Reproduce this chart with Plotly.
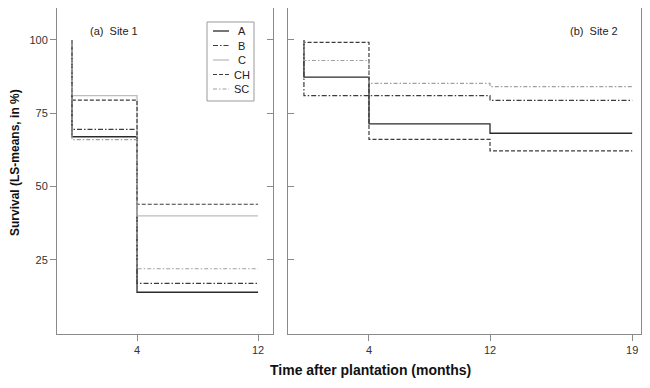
import numpy as np
import plotly.graph_objects as go

# ---- data ----
series_names = ["A", "B", "C", "CH", "SC"]
months_site1 = [0, 4, 12]
months_site2 = [0, 4, 12, 19]

site1_A = [100, 67, 14]
site1_B = [100, 69.5, 17]
site1_C = [100, 81, 40]
site1_CH = [100, 79.5, 44]
site1_SC = [100, 66, 22]

site2_A = [100, 87.3, 71.4, 68.2]
site2_B = [100, 81, 81, 79.4]
site2_CH = [100, 99.2, 66.1, 62.2]
site2_SC = [100, 93, 85.2, 84.1]

site1_ticks = [4, 12]
site2_ticks = [4, 12, 19]
y_ticks = [25, 50, 75, 100]

# ---- styling ----
styles = {
    "A": dict(color="#2b2b2b", dash="solid", width=1.3),
    "B": dict(color="#3c3c3c", dash="5px,2px,1.5px,2px", width=1.2),
    "C": dict(color="#bdbdbd", dash="solid", width=1.3),
    "CH": dict(color="#3c3c3c", dash="4px,2px", width=1.2),
    "SC": dict(color="#a0a0a0", dash="4px,2px,1.5px,2px", width=1.2),
}


def axis_pos(m):
    # non-uniform time axis scale of the original figure
    return np.interp(m, [0, 4, 12, 19], [-0.3, 4, 12, 21.4])


site1 = {"A": site1_A, "B": site1_B, "C": site1_C, "CH": site1_CH, "SC": site1_SC}
site2 = {"A": site2_A, "B": site2_B, "CH": site2_CH, "SC": site2_SC}

fig = go.Figure()
for name in series_names:
    fig.add_trace(go.Scatter(
        x=axis_pos(months_site1), y=site1[name], mode="lines", line_shape="vh",
        line=styles[name], name=name, xaxis="x", yaxis="y",
        showlegend=False, hoverinfo="skip"))
for name in series_names:
    if name not in site2:
        continue
    fig.add_trace(go.Scatter(
        x=axis_pos(months_site2), y=site2[name], mode="lines", line_shape="vh",
        line=styles[name], name=name, xaxis="x2", yaxis="y2",
        showlegend=False, hoverinfo="skip"))

FONT = "Liberation Sans, Arial, sans-serif"
axcol = "#8a8a8a"
tickfont = dict(family=FONT, size=11, color="#333333")
yr = [-0.24, 110.9]

common_x = dict(showline=True, linecolor=axcol, linewidth=1, mirror=True,
                ticks="outside", ticklen=6, tickcolor=axcol, showgrid=False,
                zeroline=False, tickfont=tickfont)
common_y = dict(showline=True, linecolor=axcol, linewidth=1, mirror=True,
                showgrid=False, zeroline=False, range=yr, tickvals=y_ticks,
                tickcolor=axcol, ticklen=6, tickfont=tickfont)

# page body has an 8px margin: figure placed at (8,8)
fig.update_layout(
    width=642, height=380,
    margin=dict(l=49, r=9, t=0, b=54),
    paper_bgcolor="white", plot_bgcolor="white",
    font=dict(family=FONT, size=11, color="#222222"),
    xaxis=dict(domain=[0, 0.3699], range=[-1.29, 12.99],
               tickvals=list(axis_pos(site1_ticks)), ticktext=[str(t) for t in site1_ticks],
               **common_x),
    xaxis2=dict(domain=[0.3955, 1], range=[-1.355, 21.98],
                tickvals=list(axis_pos(site2_ticks)), ticktext=[str(t) for t in site2_ticks],
                **common_x),
    yaxis=dict(anchor="x", ticks="outside", showticklabels=True, **common_y),
    yaxis3=dict(anchor="x", overlaying="y", side="right", ticks="inside",
                showticklabels=False, showline=False, showgrid=False, zeroline=False,
                range=yr, tickvals=y_ticks, tickcolor=axcol, ticklen=6),
    yaxis2=dict(anchor="x2", ticks="inside", showticklabels=False, **common_y),
    yaxis4=dict(anchor="x2", overlaying="y2", side="right", ticks="outside",
                showticklabels=False, showline=False, showgrid=False, zeroline=False,
                range=yr, tickvals=y_ticks, tickcolor=axcol, ticklen=6),
    showlegend=False,
)

# dummy traces so overlay axes render
fig.add_trace(go.Scatter(x=[None], y=[None], xaxis="x", yaxis="y3", showlegend=False))
fig.add_trace(go.Scatter(x=[None], y=[None], xaxis="x2", yaxis="y4", showlegend=False))


def px_x(px):
    return (px - 57) / 584


def px_y(py):
    return 1 - (py - 8) / 326


# legend (compact, like the original)
fig.add_shape(type="rect", xref="paper", yref="paper",
              x0=px_x(207), x1=px_x(254), y0=px_y(101), y1=px_y(22),
              line=dict(color="#9a9a9a", width=1), fillcolor="white", layer="above")
legend_rows = [31, 45.5, 60, 74.5, 89]
for name, row in zip(series_names, legend_rows):
    st = styles[name]
    fig.add_shape(type="line", xref="paper", yref="paper",
                  x0=px_x(213), x1=px_x(229), y0=px_y(row), y1=px_y(row),
                  line=dict(color=st["color"], dash=st["dash"], width=st["width"]),
                  layer="above")
    fig.add_annotation(text=name, xref="paper", yref="paper", x=px_x(241.5), y=px_y(row),
                       xanchor="center", yanchor="middle", showarrow=False,
                       font=dict(family=FONT, size=11, color="#222222"))

fig.add_annotation(text="(a)  Site 1", xref="x", yref="y", x=0.75, y=102.9,
                   xanchor="left", yanchor="middle", showarrow=False,
                   font=dict(family=FONT, size=11, color="#222222"))
fig.add_annotation(text="(b)  Site 2", xref="x2", yref="y2", x=20.6, y=102.9,
                   xanchor="right", yanchor="middle", showarrow=False,
                   font=dict(family=FONT, size=11, color="#222222"))
fig.add_annotation(text="<b>Time after plantation (months)</b>", xref="paper", yref="paper",
                   x=px_x(370), y=px_y(370), xanchor="center", yanchor="middle",
                   showarrow=False, font=dict(family=FONT, size=14, color="#111111"))
fig.add_annotation(text="<b>Survival (LS-means, in %)</b>", xref="paper", yref="paper",
                   x=px_x(15), y=px_y(163), xanchor="center", yanchor="middle",
                   textangle=-90, showarrow=False,
                   font=dict(family=FONT, size=12, color="#111111"))

fig.write_html("out.html")
